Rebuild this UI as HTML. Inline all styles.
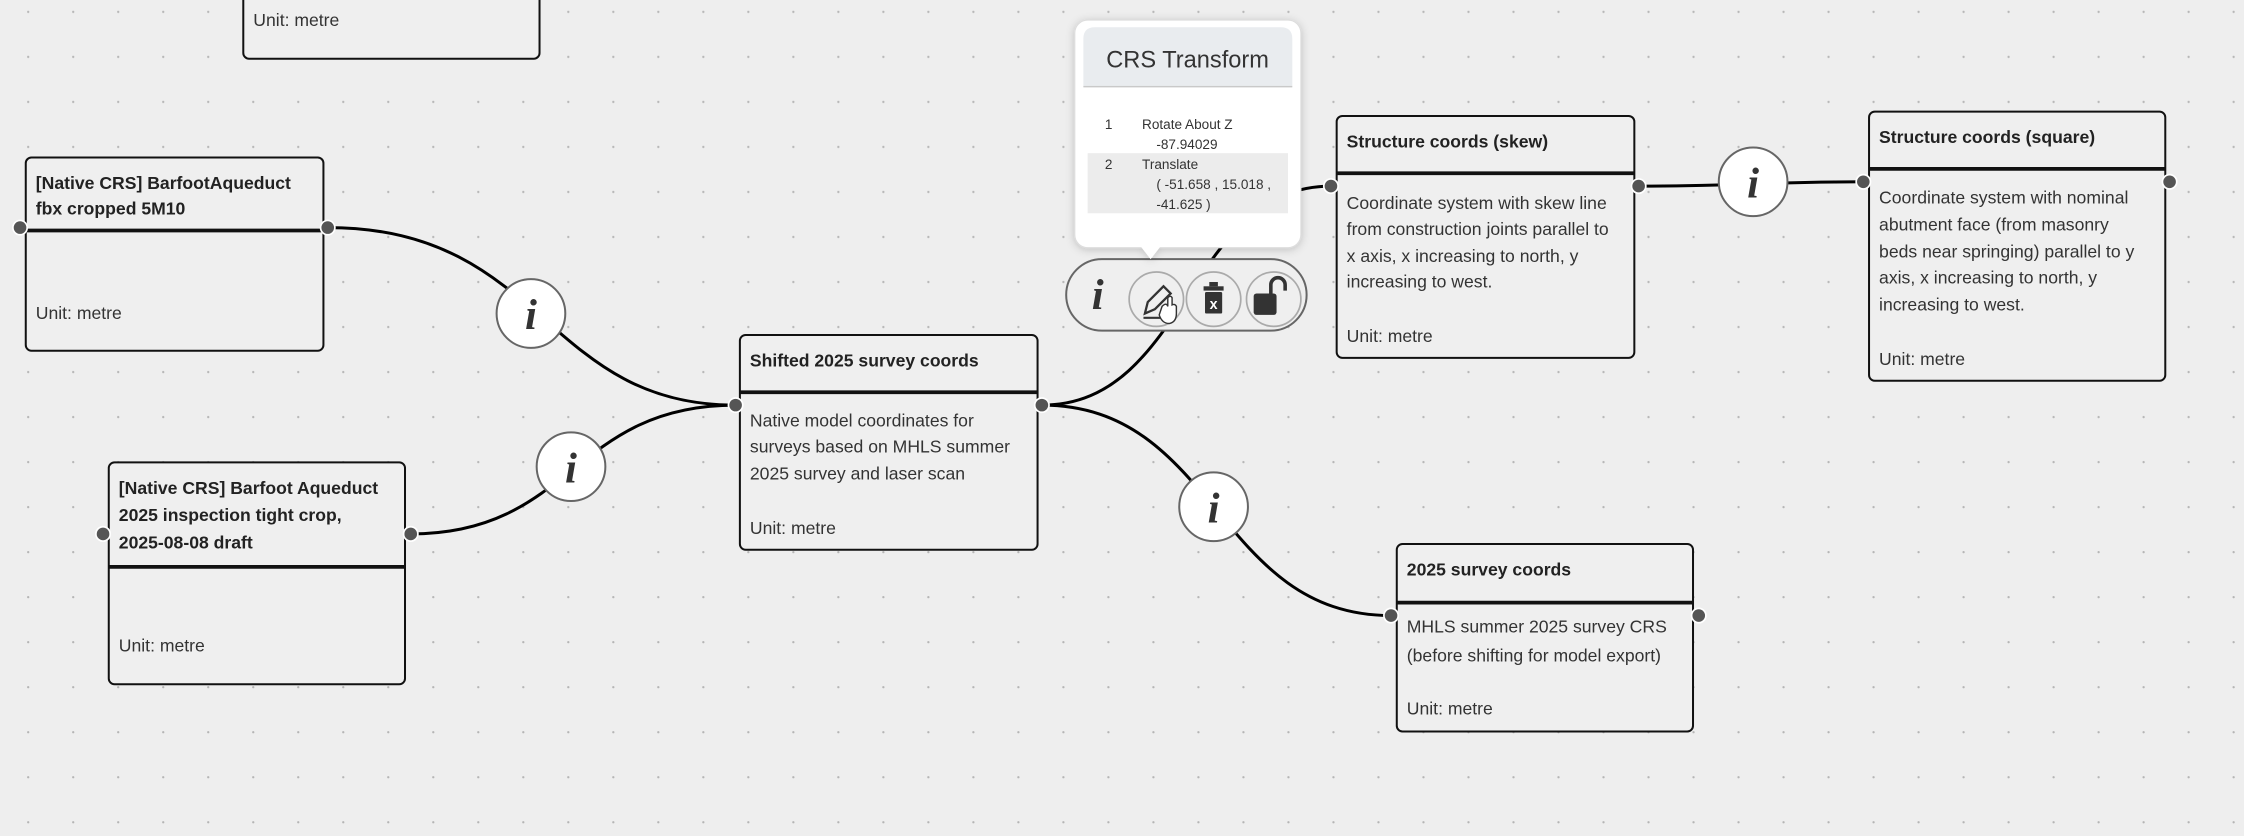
<!DOCTYPE html>
<html><head><meta charset="utf-8"><style>
html,body{margin:0;padding:0;background:#eeeeee;width:2244px;height:836px;overflow:hidden}
svg{display:block}
text{font-family:"Liberation Sans",sans-serif;fill:#222}
.t{font-weight:bold;font-size:12.3px}
.b{font-size:12.3px;fill:#333}
.n{fill:#efefef;stroke:#111;stroke-width:1.4}
.s{stroke:#111;stroke-width:2.6}
.p{fill:#555;stroke:#fff;stroke-width:1.2}
.c{fill:none;stroke:#000;stroke-width:2.1}
.ic{fill:#fff;stroke:#666;stroke-width:1.4}
.ig{font-family:"Liberation Serif",serif;font-weight:bold;font-style:italic;font-size:30px;fill:#333}
.r{font-size:9.5px;fill:#333}
</style></head><body>
<svg width="2244" height="836" viewBox="0 0 1568 584" preserveAspectRatio="none">
<defs>
<pattern id="g" x="18.9" y="7.5" width="31.45" height="31.45" patternUnits="userSpaceOnUse">
<circle cx="0.8" cy="0.8" r="0.8" fill="#b5b5b5"/>
</pattern>
<filter id="sh" x="-20%" y="-20%" width="140%" height="140%"><feDropShadow dx="0" dy="1" stdDeviation="3" flood-color="#000" flood-opacity="0.2"/></filter>
</defs>
<rect width="1568" height="584" fill="#eeeeee"/>
<rect width="1568" height="584" fill="url(#g)"/>

<!-- curves -->
<path class="c" d="M229,159 C380,159 380,283 514,283"/>
<path class="c" d="M287,373 C400,373 400,283 514,283"/>
<path class="c" d="M728,283 C850,283 850,430 972,430"/>
<path class="c" d="M728,283 C830,283 830,130 930,130"/>
<path class="c" d="M1145,130 C1225,130 1225,127 1302,127"/>

<!-- top partial node -->
<rect class="n" x="170" y="-10" width="207" height="51" rx="4"/>
<text class="b" x="177" y="18">Unit: metre</text>

<!-- Node A -->
<rect class="n" x="18" y="110" width="208" height="135" rx="4"/>
<line class="s" x1="18" y1="161" x2="226" y2="161"/>
<text class="t" x="25" y="132">[Native CRS] BarfootAqueduct</text>
<text class="t" x="25" y="150">fbx cropped 5M10</text>
<text class="b" x="25" y="223">Unit: metre</text>
<circle class="p" cx="14" cy="159" r="5"/><circle class="p" cx="229" cy="159" r="5"/>

<!-- Node B -->
<rect class="n" x="76" y="323" width="207" height="155" rx="4"/>
<line class="s" x1="76" y1="396" x2="283" y2="396"/>
<text class="t" x="83" y="345">[Native CRS] Barfoot Aqueduct</text>
<text class="t" x="83" y="364">2025 inspection tight crop,</text>
<text class="t" x="83" y="383">2025-08-08 draft</text>
<text class="b" x="83" y="455">Unit: metre</text>
<circle class="p" cx="72" cy="373" r="5"/><circle class="p" cx="287" cy="373" r="5"/>

<!-- Node C -->
<rect class="n" x="517" y="234" width="208" height="150" rx="4"/>
<line class="s" x1="517" y1="274" x2="725" y2="274"/>
<text class="t" x="524" y="256">Shifted 2025 survey coords</text>
<text class="b" x="524" y="298">Native model coordinates for</text>
<text class="b" x="524" y="316">surveys based on MHLS summer</text>
<text class="b" x="524" y="335">2025 survey and laser scan</text>
<text class="b" x="524" y="373">Unit: metre</text>
<circle class="p" cx="514" cy="283" r="5"/><circle class="p" cx="728" cy="283" r="5"/>

<!-- Node D -->
<rect class="n" x="934" y="81" width="208" height="169" rx="4"/>
<line class="s" x1="934" y1="121" x2="1142" y2="121"/>
<text class="t" x="941" y="103">Structure coords (skew)</text>
<text class="b" x="941" y="146">Coordinate system with skew line</text>
<text class="b" x="941" y="164">from construction joints parallel to</text>
<text class="b" x="941" y="183">x axis, x increasing to north, y</text>
<text class="b" x="941" y="201">increasing to west.</text>
<text class="b" x="941" y="239">Unit: metre</text>
<circle class="p" cx="930" cy="130" r="5"/><circle class="p" cx="1145" cy="130" r="5"/>

<!-- Node E -->
<rect class="n" x="1306" y="78" width="207" height="188" rx="4"/>
<line class="s" x1="1306" y1="118" x2="1513" y2="118"/>
<text class="t" x="1313" y="100">Structure coords (square)</text>
<text class="b" x="1313" y="142">Coordinate system with nominal</text>
<text class="b" x="1313" y="161">abutment face (from masonry</text>
<text class="b" x="1313" y="180">beds near springing) parallel to y</text>
<text class="b" x="1313" y="198">axis, x increasing to north, y</text>
<text class="b" x="1313" y="217">increasing to west.</text>
<text class="b" x="1313" y="255">Unit: metre</text>
<circle class="p" cx="1302" cy="127" r="5"/><circle class="p" cx="1516" cy="127" r="5"/>

<!-- Node F -->
<rect class="n" x="976" y="380" width="207" height="131" rx="4"/>
<line class="s" x1="976" y1="421" x2="1183" y2="421"/>
<text class="t" x="983" y="402">2025 survey coords</text>
<text class="b" x="983" y="442">MHLS summer 2025 survey CRS</text>
<text class="b" x="983" y="462">(before shifting for model export)</text>
<text class="b" x="983" y="499">Unit: metre</text>
<circle class="p" cx="972" cy="430" r="5"/><circle class="p" cx="1187" cy="430" r="5"/>

<!-- info circles -->
<g><circle class="ic" cx="371" cy="219" r="24"/><text class="ig" x="371" y="230" text-anchor="middle">i</text></g>
<g><circle class="ic" cx="399" cy="326" r="24"/><text class="ig" x="399" y="337" text-anchor="middle">i</text></g>
<g><circle class="ic" cx="848" cy="354" r="24"/><text class="ig" x="848" y="365" text-anchor="middle">i</text></g>
<g><circle class="ic" cx="1225" cy="127" r="24"/><text class="ig" x="1225" y="138" text-anchor="middle">i</text></g>

<!-- toolbar pill -->
<rect x="745" y="181" width="168" height="50" rx="25" fill="#efefef" stroke="#666" stroke-width="1.4"/>
<text class="ig" x="767" y="216" text-anchor="middle">i</text>
<circle cx="808" cy="209" r="19" fill="#efefef" stroke="#aaa" stroke-width="1.2"/>
<path d="M800,219 L802,211 L813,200 L818,205 L807,216 Z" fill="none" stroke="#333" stroke-width="1.6"/>
<line x1="799" y1="222" x2="812" y2="222" stroke="#333" stroke-width="1.5"/>
<path d="M812,214 q3,-3 4,0 v-6 q2,-2 3,0 v5 q2,-1 3,1 v5 q0,6 -5,7 q-5,0 -7,-6 z" fill="#fff" stroke="#333" stroke-width="1"/>
<circle cx="848" cy="209" r="19" fill="#efefef" stroke="#aaa" stroke-width="1.2"/>
<rect x="841" y="200" width="14" height="3" fill="#333"/>
<rect x="845" y="197" width="6" height="3" fill="#333"/>
<rect x="842" y="204" width="12" height="15" rx="1" fill="#333"/>
<text x="848" y="216" text-anchor="middle" style="font-size:10px;font-weight:bold;fill:#fff">x</text>
<circle cx="890" cy="209" r="19" fill="#efefef" stroke="#aaa" stroke-width="1.2"/>
<rect x="876" y="205" width="16" height="15" rx="2" fill="#333"/>
<path d="M888,205 v-6 a5,5 0 0 1 10,0 v4" fill="none" stroke="#333" stroke-width="2.5"/>

<!-- popup -->
<g filter="url(#sh)">
<rect x="751" y="14" width="158" height="159" rx="9" fill="#fff" stroke="#ddd" stroke-width="0.8"/>
<path d="M797,172 L804,181 L811,172 Z" fill="#fff"/>
</g>
<path d="M757,60 V27 q0,-8 8,-8 h130 q8,0 8,8 V60 Z" fill="#e9ecef"/>
<line x1="757" y1="60.5" x2="903" y2="60.5" stroke="#c9c9c9" stroke-width="1"/>
<text x="773" y="47" style="font-size:16.5px;fill:#333">CRS Transform</text>
<text class="r" x="772" y="90">1</text>
<text class="r" x="798" y="90">Rotate About Z</text>
<text class="r" x="808" y="104">-87.94029</text>
<rect x="760" y="107" width="140" height="42" fill="#ececec"/>
<text class="r" x="772" y="118">2</text>
<text class="r" x="798" y="118">Translate</text>
<text class="r" x="808" y="132">( -51.658 , 15.018 ,</text>
<text class="r" x="808" y="146">-41.625 )</text>
</svg>
</body></html>
